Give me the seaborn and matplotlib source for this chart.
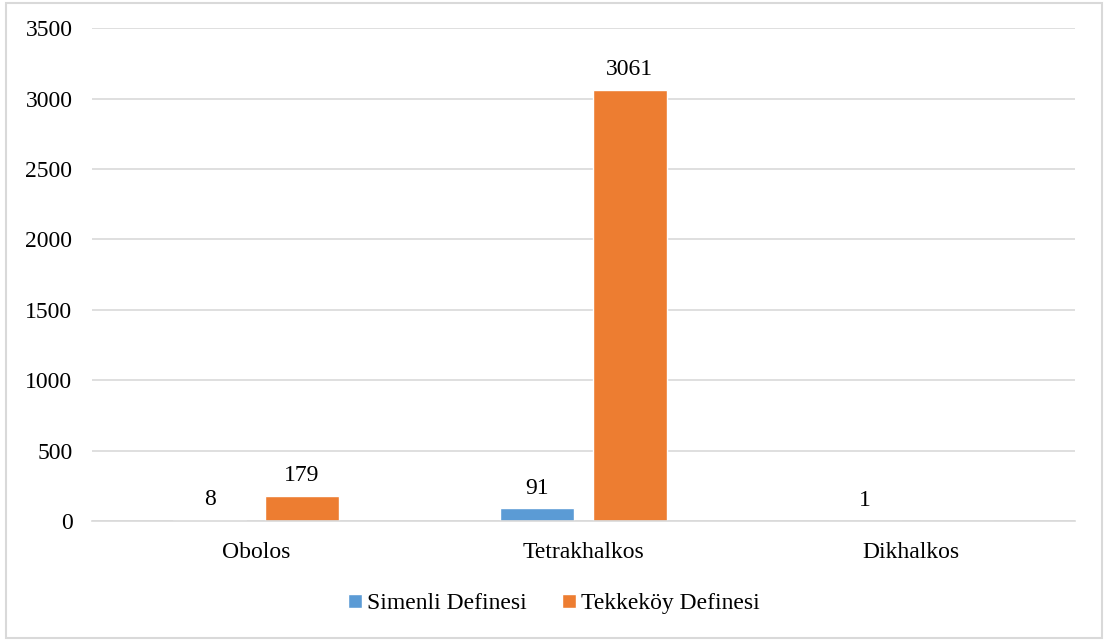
import pandas as pd
import matplotlib.pyplot as plt
import seaborn as sns
from matplotlib.patches import Rectangle

# ── Data ───────────────────────────────────────────
categories = ["Obolos", "Tetrakhalkos", "Dikhalkos"]
simenli = [8, 91, 1]
tekkekoy = [179, 3061, 0]
series_names = ["Simenli Definesi", "Tekkeköy Definesi"]
colors = ["#5B9BD5", "#ED7D31"]

df = pd.DataFrame({
    "Kategori": categories * 2,
    "Adet": simenli + tekkekoy,
    "Seri": [series_names[0]] * 3 + [series_names[1]] * 3,
})

# ── Style ──────────────────────────────────────────
sns.set_style("white")
plt.rcParams["font.family"] = ["Liberation Serif", "DejaVu Serif"]
plt.rcParams["text.color"] = "#000000"
fs = 17

fig = plt.figure(figsize=(11.07, 6.41), dpi=100)
ax = fig.add_axes([0.083, 0.187, 0.888, 0.769])

sns.barplot(data=df, x="Kategori", y="Adet", hue="Seri", palette=colors,
            saturation=1, width=0.564, gap=0.2, ax=ax, legend=True)

# value labels (skip empty bars)
for cont in ax.containers:
    labels = [f"{v:.0f}" if v > 0 else "" for v in cont.datavalues]
    ax.bar_label(cont, labels=labels, padding=7, fontsize=fs, color="#000000")

ax.set_ylim(0, 3500)
ax.set_xlim(-0.5, 2.5)
ax.set_yticks(range(0, 3501, 500))
ax.yaxis.grid(True, color="#D9D9D9", linewidth=1.2)
ax.set_axisbelow(True)
ax.set_xlabel("")
ax.set_ylabel("")
for s in ["left", "right", "top"]:
    ax.spines[s].set_visible(False)
ax.spines["bottom"].set_color("#D9D9D9")
ax.spines["bottom"].set_linewidth(1.2)
ax.tick_params(axis="y", length=0, pad=14, labelsize=fs, labelcolor="#000000")
ax.tick_params(axis="x", length=0, pad=15, labelsize=fs, labelcolor="#000000")

leg = ax.legend(loc="center", bbox_to_anchor=(0.5, 0.058), bbox_transform=fig.transFigure,
                ncol=2, frameon=False, fontsize=fs, handlelength=0.6, handleheight=0.6,
                handletextpad=0.2, columnspacing=1.5)
for t in leg.get_texts():
    t.set_color("#000000")

# chart border
fig.patches.append(Rectangle((6 / 1107, 3 / 641), 1096 / 1107, 635 / 641,
                             transform=fig.transFigure, fill=False,
                             edgecolor="#D9D9D9", linewidth=1.5))

plt.savefig("out.png", dpi=100)
